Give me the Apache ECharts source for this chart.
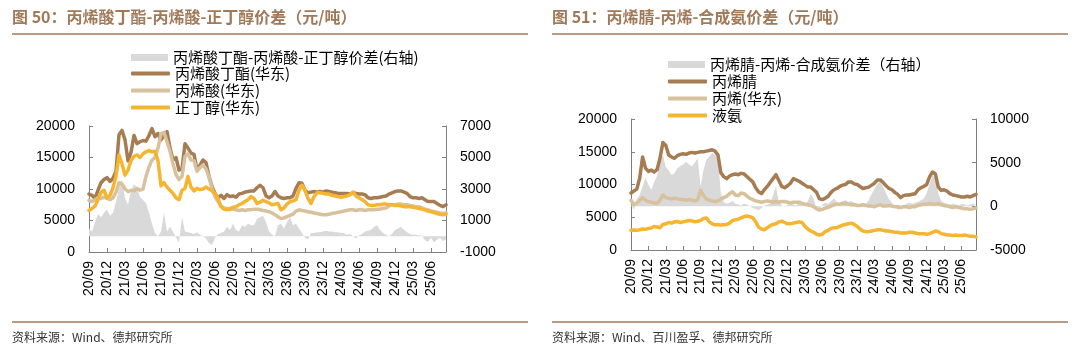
<!DOCTYPE html>
<html><head><meta charset="utf-8">
<script src="https://cdn.jsdelivr.net/npm/echarts@6/dist/echarts.min.js"></script>
<style>html,body{margin:0;padding:0;background:#fff}#c{width:1080px;height:356px}</style>
</head><body><div id="c"></div>
<script>
// half-month categories, 2020-09 .. 2025-08
const categories = [];
for (let y = 2020, m = 9; !(y === 2025 && m === 9);) {
  const mm = (m < 10 ? '0' : '') + m;
  categories.push(y + '-' + mm + '-01', y + '-' + mm + '-16');
  m++; if (m > 12) { m = 1; y++; }
}

// Chart 50
const nameSpreadL = '丙烯酸丁酯-丙烯酸-正丁醇价差(右轴)';
const nameBA = '丙烯酸丁酯(华东)';
const nameAA = '丙烯酸(华东)';
const nameNBA = '正丁醇(华东)';
const butylAcrylate = [9200,9000,8500,9800,11000,11500, 11800,11200,11700,12800,18600,19300, 17800,14500,15800,18500,17200,17500, 17700,17600,18500,19600,18300,18800, 17800,18500,19100,16500,14600,15000, 13000,13200,17200,16500,15700,15500, 13000,13800,14600,14200,12000,10400, 9300,8600,9000,8500,9100,8800, 8900,8700,9200,9300,9500,9600, 9700,9700,10200,10600,10200,8900, 8600,8900,9600,8900,8600,8500, 8600,8600,8900,10100,11000,10900, 9800,9400,9500,9600,9500,9600, 9500,9700,9600,9500,9400,9300, 9300,9300,9300,9200,9400,9300, 9200,9200,9100,8600,8500,8600, 8600,8700,8800,8900,9200,9400, 9600,9700,9700,9500,9300,8800, 8600,8600,8500,8600,8300,8000, 8000,8000,7700,7400,7200,7500];
const acrylicAcid = [8200,8000,8300,8600,8500,8700, 8500,8300,8600,9500,11000,10800, 10000,9600,9800,9700,10100,9800, 10000,12000,13500,14600,15000,16500, 18800,19000,17500,16000,14000,12300, 11500,12000,15200,15600,14600,14500, 12800,13400,13800,13200,11900,10100, 8800,8000,7300,7000,6900,6700, 6800,6700,6600,6700,6600,6700, 6700,6800,6800,6700,6600,6500, 6400,6200,5900,5600,5300,5400, 5600,5800,6000,6500,6700,6600, 6500,6400,6300,6200,6100,6000, 5900,5900,6000,6100,6200,6300, 6400,6500,6600,6700,6700,6600, 6700,6700,6600,6700,6700,6700, 6800,6800,6900,7000,7300,7500, 7500,7600,7600,7500,7500,7400, 7300,7200,7200,7000,6800,6700, 6500,6400,6300,6200,6100,6200];
const nButanol = [6600,6900,7300,8300,9500,9800, 8600,9000,10200,12000,15400,14000, 12200,13000,14500,15200,15400,15000, 15600,15900,16100,15900,16000,14500, 10500,11000,10300,9800,9300,8600, 8300,9800,10100,12000,10300,9700, 10100,9900,10000,10300,10000,9700, 9300,8500,7200,6800,6700,6900, 7100,7200,7500,7700,8000,8300, 8800,8500,7700,7900,8200,8000, 7800,7500,7600,7700,6700,7000, 7600,8000,8100,8300,9800,10600, 9800,8500,7700,8800,9400,9400, 9300,9200,9200,9000,8900,8800, 8700,8800,8900,9100,9500,8900, 8600,8300,8000,7500,7400,7400, 7500,7500,7600,7600,7500,7500, 7400,7400,7300,7200,7200,7200, 7100,7000,6900,6800,6700,6500, 6400,6300,6100,6000,5900,6000];
const spreadL = [500,300,900,1400,1200,1500, 1700,1300,1500,2200,3000,3600, 2400,2000,2900,3300,3100,2500, 2300,2100,1500,800,200,0, 300,1500,300,600,300,-100, -400,1200,300,250,200,150, 250,100,0,-150,-450,-550, -100,150,200,300,600,400, 800,400,300,700,600,800, 700,700,1100,1200,1300,900, 300,100,0,700,800,500, 900,1200,700,800,500,200, -100,-200,200,200,250,250, 300,350,300,300,250,250, 200,200,100,150,0,-150, 50,150,300,350,400,600, 700,400,200,100,0,150, 400,500,600,400,250,150, 100,100,50,50,-250,-350, -100,-400,-200,-100,-300,-200];

// Chart 51
const nameSpreadR = '丙烯腈-丙烯-合成氨价差（右轴）';
const nameAN = '丙烯腈';
const namePP = '丙烯(华东)';
const nameNH3 = '液氨';
const acrylonitrile = [8700,9000,9300,11000,14200,12500, 12000,12200,11900,12300,14000,16400, 16000,14500,14200,14000,14400,14600, 14700,14600,14800,14900,14800,14900, 15000,15000,15100,15200,15300,15100, 14500,11800,11200,10900,11300,11500, 11600,11500,11700,11600,11200,10800, 10400,9500,8900,8600,9200,9700, 10300,10900,11500,10600,9700,9500, 9800,10200,10900,10700,10500,10200, 9900,9600,9600,9200,8800,7800, 7700,7900,8200,8800,9200,9400, 9700,9900,10000,10400,10400,10100, 10000,9700,9400,9500,9600,9900, 10200,10700,10700,10300,9800,9400, 9200,8800,8500,8000,8300,8400, 8400,8500,8600,9200,9500,9700, 10000,11200,11900,11600,9600,9100, 9200,9000,8600,8400,8300,8200, 8100,8100,8200,8100,8300,8500];
const propylene = [7600,6900,7200,7600,8000,7600, 7400,7300,7200,7100,7600,8400, 8000,7900,7800,7900,7800,7700, 7700,7600,7700,7600,7500,7700, 9100,8300,7800,7600,7500,7400, 7500,7800,8000,8200,8600,8900, 8400,8300,8700,8600,8200,7900, 7700,7500,7400,7300,7400,7500, 7400,7300,7400,7300,7400,7400, 7300,7200,7300,7300,7300,7100, 7000,6900,6800,6600,6300,6100, 6200,6400,6500,6700,6900,7000, 7000,7100,7100,7000,6900,6900, 6800,6800,6900,6800,6700,6700, 6600,6800,6900,6700,6700,6800, 6700,6600,6600,6500,6600,6600, 6500,6600,6600,6800,6900,7000, 7000,7100,7000,7000,7100,6900, 6800,6700,6600,6500,6600,6500, 6400,6300,6300,6200,6300,6400];
const ammonia = [3000,3050,3000,3100,3200,3150, 3300,3350,3600,3500,3400,3900, 4000,4200,4100,4300,4350,4200, 4300,4400,4500,4450,4300,4400, 4500,4800,4900,4300,4000,3850, 3900,3800,3850,3900,4100,4500, 4600,4700,4900,5100,5200,5100, 4900,4300,3500,3200,3100,3400, 3700,3900,4000,4300,4400,4200, 4000,4000,4100,4200,4300,4200, 3600,3200,2900,2700,2400,2300, 2400,2800,3000,3300,3400,3400, 3600,3800,3900,4000,4100,3900, 3600,3200,2900,2800,2800,2900, 3000,3100,3100,3000,2900,2900, 2800,2700,2700,2600,2600,2600, 2700,2700,2600,2500,2500,2500, 2400,2500,2700,2900,2800,2500, 2400,2300,2300,2200,2300,2200, 2200,2300,2200,2100,2100,2000];
const spreadR = [200,-400,800,1300,2300,3300, 2500,1900,2800,3500,5000,5900, 4500,4100,3600,3800,4400,4600, 4800,5100,4800,4600,5000,5500, 2300,4200,5300,5700,6100,5900, 5600,1500,500,300,400,600, 300,200,100,300,200,0, -200,-300,-450,-200,100,200, 300,1300,2300,400,100,-100, 200,300,200,100,500,300, 100,600,1400,900,-300,-500, 200,400,300,600,900,500, 400,600,700,500,600,400, 300,200,400,300,700,1400, 2000,2600,2900,2200,1500,800, 400,0,-400,-300,100,300, 400,300,400,500,700,900, 1500,2600,3600,3200,1500,600, 400,300,200,300,200,100, 300,200,100,200,300,200];

const NUM = '"Liberation Sans", Arial, sans-serif';
const CJK = '"Noto Sans CJK SC", sans-serif';
const C_BROWN = '#a67c52', C_BEIGE = '#d8c29d', C_ORANGE = '#f5b530', C_GRAY = '#d9d9d9';
const C_TITLE = '#a07a58', AX = '#808080';

function xAx(g) {
  return {type: 'category', gridIndex: g, data: categories, boundaryGap: false,
    axisLine: {lineStyle: {color: AX}},
    axisTick: {inside: true, length: 4, interval: 5, lineStyle: {color: AX}},
    axisLabel: {interval: 5, rotate: 90, margin: 9, fontSize: 14, color: '#000', fontFamily: NUM,
      formatter: v => v.slice(2, 4) + '/' + v.slice(5, 7)},
    splitLine: {show: false}};
}
function yAx(g, pos, min, max, itv) {
  return {type: 'value', gridIndex: g, position: pos, min: min, max: max, interval: itv,
    axisLine: {show: true, lineStyle: {color: AX}},
    axisTick: {show: true, inside: true, length: 4, lineStyle: {color: AX}},
    axisLabel: {fontSize: 14, color: '#000', fontFamily: NUM, margin: 14, formatter: v => String(v)},
    splitLine: {show: false}};
}
function area(name, xi, yi, data) {
  return {type: 'line', name, xAxisIndex: xi, yAxisIndex: yi, data, symbol: 'none',
    lineStyle: {width: 0}, itemStyle: {color: C_GRAY}, areaStyle: {color: C_GRAY, opacity: 1}, z: 1};
}
function line(name, xi, yi, data, color) {
  return {type: 'line', name, xAxisIndex: xi, yAxisIndex: yi, data, symbol: 'none',
    lineStyle: {width: 3.5, color, cap: 'round', join: 'round'}, itemStyle: {color}, z: 3};
}
const legTxt = {fontSize: 15, lineHeight: 17, color: '#000', fontFamily: CJK};
function legA(left, top, name) {
  return {left, top, itemWidth: 37, itemHeight: 7, itemGap: 0, padding: 0, selectedMode: false,
    data: [{name, icon: 'rect'}], textStyle: legTxt};
}
function legB(left, top, names) {
  return {left, top, orient: 'vertical', itemWidth: 39, itemHeight: 4, itemGap: 0, padding: 0, selectedMode: false,
    data: names.map(n => ({name: n, icon: 'roundRect'})), textStyle: legTxt};
}

const chart = echarts.init(document.getElementById('c'), null, {renderer: 'canvas'});
chart.setOption({
  animation: false,
  backgroundColor: '#fff',
  grid: [
    {left: 89, top: 126, width: 357, height: 126},
    {left: 631, top: 119, width: 345, height: 131}
  ],
  xAxis: [xAx(0), xAx(1)],
  yAxis: [yAx(0, 'left', 0, 20000, 5000), yAx(0, 'right', -1000, 7000, 2000),
          yAx(1, 'left', 0, 20000, 5000), yAx(1, 'right', -5000, 10000, 5000)],
  legend: [
    legA(131, 49, nameSpreadL), legB(131, 65, [nameBA, nameAA, nameNBA]),
    legA(668, 56, nameSpreadR), legB(668, 73, [nameAN, namePP, nameNH3])
  ],
  series: [
    area(nameSpreadL, 0, 1, spreadL),
    line(nameBA, 0, 0, butylAcrylate, C_BROWN),
    line(nameAA, 0, 0, acrylicAcid, C_BEIGE),
    line(nameNBA, 0, 0, nButanol, C_ORANGE),
    area(nameSpreadR, 1, 3, spreadR),
    line(nameAN, 1, 2, acrylonitrile, C_BROWN),
    line(namePP, 1, 2, propylene, C_BEIGE),
    line(nameNH3, 1, 2, ammonia, C_ORANGE)
  ],
  graphic: [
    {type: 'text', left: 12, top: 9, style: {text: '图 50：丙烯酸丁酯-丙烯酸-正丁醇价差（元/吨）', font: 'bold 16px "Noto Sans CJK SC"', fill: C_TITLE}},
    {type: 'text', left: 552, top: 9, style: {text: '图 51：丙烯腈-丙烯-合成氨价差（元/吨）', font: 'bold 16px "Noto Sans CJK SC"', fill: C_TITLE}},
    {type: 'line', shape: {x1: 12, y1: 34, x2: 528, y2: 34}, style: {stroke: C_TITLE, lineWidth: 1.5}},
    {type: 'line', shape: {x1: 552, y1: 34, x2: 1068, y2: 34}, style: {stroke: C_TITLE, lineWidth: 1.5}},
    {type: 'line', shape: {x1: 12, y1: 322, x2: 528, y2: 322}, style: {stroke: C_TITLE, lineWidth: 1.5}},
    {type: 'line', shape: {x1: 552, y1: 322, x2: 1068, y2: 322}, style: {stroke: C_TITLE, lineWidth: 1.5}},
    {type: 'text', left: 12, top: 331, style: {text: '资料来源：Wind、德邦研究所', font: '12px "Noto Sans CJK SC"', fill: '#333'}},
    {type: 'text', left: 552, top: 331, style: {text: '资料来源：Wind、百川盈孚、德邦研究所', font: '12px "Noto Sans CJK SC"', fill: '#333'}}
  ]
});
</script>
</body></html>
